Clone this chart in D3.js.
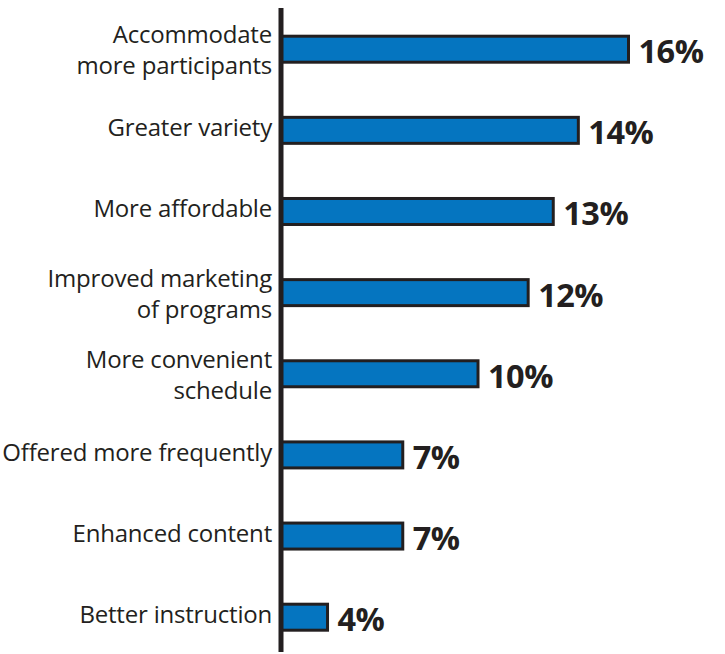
<!DOCTYPE html>
<html>
<head>
<meta charset="utf-8">
<script src="https://cdn.jsdelivr.net/npm/d3@7/dist/d3.min.js"></script>
<style>
  html, body { margin: 0; padding: 0; background: #ffffff; }
  svg { display: block; }
</style>
</head>
<body>
<svg id="chart" width="725" height="654"></svg>
<script>
// Survey responses: what would improve the programs
const categories = [
  ["Accommodate", "more participants"],
  ["Greater variety"],
  ["More affordable"],
  ["Improved marketing", "of programs"],
  ["More convenient", "schedule"],
  ["Offered more frequently"],
  ["Enhanced content"],
  ["Better instruction"]
];
const values = [16, 14, 13, 12, 10, 7, 7, 4];
const valueLabels = ["16%", "14%", "13%", "12%", "10%", "7%", "7%", "4%"];

const ink = "#231f20";
const barFill = "#0575c0";

const svg = d3.select("#chart");
const keys = categories.map(d => d.join(" "));

// Linear value scale; bars grow out from the vertical baseline
const x = d3.scaleLinear().domain([0, 16]).range([227.2, 628.5]);
const baseX = 281;

// Row centres
const y = d3.scalePoint().domain(keys).range([49.2, 617.2]);
const barH = 26;

const rows = svg.selectAll("g.row")
  .data(values.map((v, i) => ({ key: keys[i], lines: categories[i], value: v, label: valueLabels[i] })))
  .join("g")
  .attr("class", "row")
  .attr("transform", d => `translate(0,${y(d.key)})`);

rows.append("rect")
  .attr("x", baseX)
  .attr("y", -barH / 2)
  .attr("width", d => x(d.value) - baseX)
  .attr("height", barH)
  .attr("fill", barFill)
  .attr("stroke", ink)
  .attr("stroke-width", 3);

rows.append("text")
  .attr("x", d => x(d.value) + 10)
  .attr("y", 14)
  .attr("fill", ink)
  .attr("font-family", "'Open Sans', sans-serif")
  .attr("font-weight", 700)
  .attr("font-size", 32.5)
  .attr("letter-spacing", -0.5)
  .text(d => d.label);

const catText = rows.append("text")
  .attr("text-anchor", "end")
  .attr("fill", ink)
  .attr("font-family", "'Open Sans', sans-serif")
  .attr("font-size", 24)
  .attr("letter-spacing", -0.2);

catText.each(function(d) {
  const t = d3.select(this);
  if (d.lines.length === 1) {
    t.append("tspan").attr("x", 272).attr("y", 6).text(d.lines[0]);
  } else {
    t.append("tspan").attr("x", 272).attr("y", -6).text(d.lines[0]);
    t.append("tspan").attr("x", 272).attr("y", 25).text(d.lines[1]);
  }
});

// Vertical baseline drawn over the bar ends
svg.append("line")
  .attr("x1", baseX).attr("x2", baseX)
  .attr("y1", 8).attr("y2", 652)
  .attr("stroke", ink)
  .attr("stroke-width", 5);
</script>
</body>
</html>
